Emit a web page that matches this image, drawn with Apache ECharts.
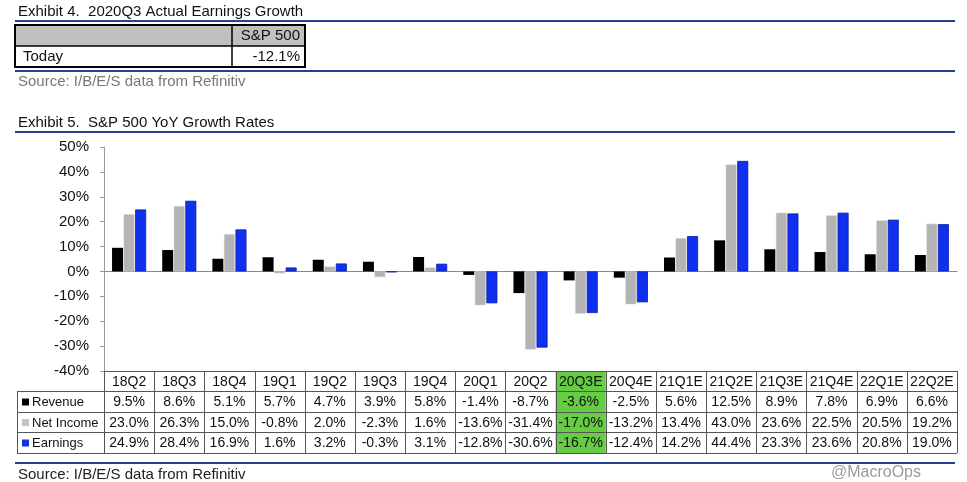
<!DOCTYPE html>
<html lang="en">
<head>
    <meta charset="UTF-8">
    <script src="https://cdn.jsdelivr.net/npm/echarts@6/dist/echarts.min.js"></script>
    <title>S&P 500 YoY Growth Rates</title>
    <style>
        * { margin: 0; padding: 0; }
        body { background: #fff; }
        #main { width: 967px; height: 482px; }
    </style>
</head>
<body>
<div id="main"></div>
<script>
    // quarters + the three series
    var quarters = ['18Q2', '18Q3', '18Q4', '19Q1', '19Q2', '19Q3', '19Q4', '20Q1', '20Q2',
        '20Q3E', '20Q4E', '21Q1E', '21Q2E', '21Q3E', '21Q4E', '22Q1E', '22Q2E'];
    var revenue = [9.5, 8.6, 5.1, 5.7, 4.7, 3.9, 5.8, -1.4, -8.7, -3.6, -2.5, 5.6, 12.5, 8.9, 7.8, 6.9, 6.6];
    var netIncome = [23.0, 26.3, 15.0, -0.8, 2.0, -2.3, 1.6, -13.6, -31.4, -17.0, -13.2, 13.4, 43.0, 23.6, 22.5, 20.5, 19.2];
    var earnings = [24.9, 28.4, 16.9, 1.6, 3.2, -0.3, 3.1, -12.8, -30.6, -16.7, -12.4, 14.2, 44.4, 23.3, 23.6, 20.8, 19.0];
    var highlightIdx = 9; // 20Q3E

    // exhibit 4 table
    var ex4Header = 'S&P 500';
    var ex4Row = ['Today', '-12.1%'];

    var FONT = '"Liberation Sans", Arial, sans-serif';
    var BLUE_RULE = '#27408f';

    // layout of the chart grid
    var gridLeft = 104, gridRight = 957, gridTop = 147, gridBottom = 371;
    var colW = (gridRight - gridLeft) / quarters.length;
    var rowY = [371, 391, 412, 432, 453]; // table row borders

    var rows = [
        { name: 'Revenue', data: revenue, mark: '#000000' },
        { name: 'Net Income', data: netIncome, mark: '#c4c4c4' },
        { name: 'Earnings', data: earnings, mark: '#1434e0' }
    ];

    function txt(x, y, s, opts) {
        opts = opts || {};
        return {
            type: 'text', x: x, y: y, z: 10,
            style: {
                text: s,
                font: (opts.size || 14) + 'px ' + FONT,
                fill: opts.color || '#111',
                textAlign: opts.align || 'left', align: opts.align || 'left',
                textVerticalAlign: 'middle', verticalAlign: 'middle'
            }
        };
    }
    function ln(x1, y1, x2, y2, color, w) {
        return {
            type: 'line', z: 5,
            shape: { x1: x1, y1: y1, x2: x2, y2: y2 },
            style: { stroke: color || '#555', lineWidth: w || 1 }
        };
    }

    var g = [];

    // ---- Exhibit 4 ----
    g.push(txt(18, 12, 'Exhibit 4.  2020Q3 Actual Earnings Growth', { size: 15 }));
    g.push(ln(15, 21, 955, 21, BLUE_RULE, 2));
    g.push({ type: 'rect', z: 1, shape: { x: 15, y: 25, width: 290, height: 21 }, style: { fill: '#c0c0c0' } });
    g.push({ type: 'rect', z: 6, shape: { x: 15, y: 25, width: 290, height: 42 }, style: { fill: 'none', stroke: '#000', lineWidth: 2 } });
    g.push(ln(15, 46, 305, 46, '#000', 1.5));
    g.push(ln(232, 25, 232, 67, '#000', 1.5));
    g.push(txt(300, 36, ex4Header, { align: 'right', size: 15 }));
    g.push(txt(23, 57, ex4Row[0], { size: 15 }));
    g.push(txt(300, 57, ex4Row[1], { align: 'right', size: 15 }));
    g.push(ln(15, 71, 955, 71, BLUE_RULE, 2));
    g.push(txt(18, 82, 'Source: I/B/E/S data from Refinitiv', { color: '#777', size: 15 }));

    // ---- Exhibit 5 title ----
    g.push(txt(18, 123, 'Exhibit 5.  S&P 500 YoY Growth Rates', { size: 15 }));
    g.push(ln(15, 132, 955, 132, BLUE_RULE, 2));

    // ---- data table under the chart ----
    var hx = gridLeft + highlightIdx * colW;
    g.push({ type: 'rect', z: 2, shape: { x: hx, y: rowY[0], width: colW, height: rowY[4] - rowY[0] }, style: { fill: '#66cc44' } });

    g.push(ln(gridLeft, rowY[0] + 0.5, gridRight, rowY[0] + 0.5));
    for (var r = 1; r < rowY.length; r++) {
        g.push(ln(17, rowY[r] + 0.5, gridRight, rowY[r] + 0.5));
    }
    g.push(ln(17.5, rowY[1], 17.5, rowY[4]));
    for (var c = 0; c <= quarters.length; c++) {
        var cx = Math.round(gridLeft + c * colW) + 0.5;
        g.push(ln(cx, rowY[0], cx, rowY[4]));
    }
    quarters.forEach(function (q, i) {
        var mx = gridLeft + (i + 0.5) * colW;
        g.push(txt(mx, (rowY[0] + rowY[1]) / 2 + 1, q, { align: 'center' }));
        rows.forEach(function (row, k) {
            var my = (rowY[k + 1] + rowY[k + 2]) / 2 + 1;
            g.push(txt(mx, my, row.data[i].toFixed(1) + '%', { align: 'center' }));
        });
    });
    rows.forEach(function (row, k) {
        var my = (rowY[k + 1] + rowY[k + 2]) / 2;
        g.push({ type: 'rect', z: 10, shape: { x: 22, y: my - 3, width: 7, height: 7 }, style: { fill: row.mark } });
        g.push(txt(32, my + 1, row.name, { size: 13 }));
    });

    // ---- footer ----
    g.push(ln(15, 463, 955, 463, BLUE_RULE, 2));
    g.push(txt(18, 475, 'Source: I/B/E/S data from Refinitiv', { color: '#222', size: 15 }));
    g.push(txt(921, 473, '@MacroOps', { align: 'right', size: 16, color: '#9a9a9a' }));

    var myChart = echarts.init(document.getElementById('main'));
    var option = {
        animation: false,
        grid: {
            left: gridLeft,
            right: 967 - gridRight,
            top: gridTop,
            bottom: 482 - gridBottom
        },
        xAxis: {
            type: 'category',
            data: quarters,
            axisLine: { onZero: true, lineStyle: { color: '#8a8a8a', width: 1 } },
            axisTick: { show: false },
            axisLabel: { show: false },
            splitLine: { show: false }
        },
        yAxis: {
            type: 'value',
            min: -40,
            max: 50,
            interval: 10,
            axisLine: { show: true, lineStyle: { color: '#9a9a9a' } },
            axisTick: { show: true, length: 4, lineStyle: { color: '#9a9a9a' } },
            axisLabel: {
                formatter: '{value}%',
                color: '#111',
                fontSize: 15,
                fontFamily: FONT,
                margin: 15
            },
            splitLine: { show: false }
        },
        series: [
            {
                name: 'Revenue', type: 'bar', data: revenue,
                barWidth: 11, barGap: '5%',
                itemStyle: { color: '#000000' }
            },
            {
                name: 'Net Income', type: 'bar', data: netIncome,
                barWidth: 11, barGap: '5%',
                itemStyle: { color: '#b4b4b4', borderColor: '#d8d8d8', borderWidth: 0.5 }
            },
            {
                name: 'Earnings', type: 'bar', data: earnings,
                barWidth: 11, barGap: '5%',
                itemStyle: { color: '#1030f0', borderColor: '#0a1ea8', borderWidth: 0.8 }
            }
        ],
        graphic: g
    };

    option && myChart.setOption(option);
</script>
</body>
</html>
